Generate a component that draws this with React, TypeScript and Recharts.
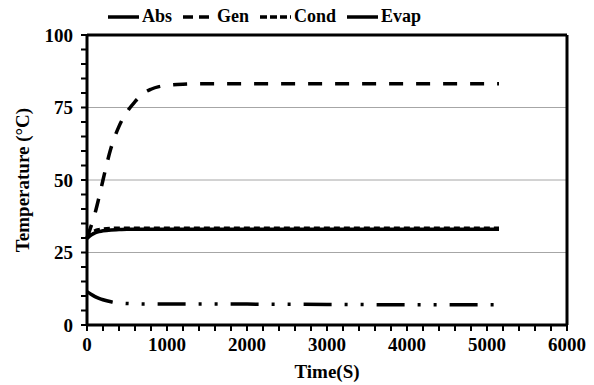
import React from 'react'
import { LineChart, Line, XAxis, YAxis, ReferenceLine, Legend } from 'recharts'

// time axis (s) shared by all four series
const times = [0, 50, 100, 150, 200, 300, 400, 500, 600, 700, 800, 900, 1000, 1200, 1500, 2000, 3000, 4000, 5150]

const absTemp = [29.8, 31, 31.8, 32.2, 32.5, 32.8, 32.9, 33, 33, 33, 33, 33, 33, 33, 33, 33, 33, 33, 33]
const genTemp = [30, 34, 38.5, 44, 50, 61, 68.5, 73.5, 77, 79.8, 81.3, 82.2, 82.6, 83, 83.2, 83.2, 83.2, 83.2, 83.2]
const condTemp = [30, 31.6, 32.5, 32.9, 33.1, 33.3, 33.4, 33.4, 33.4, 33.4, 33.4, 33.4, 33.4, 33.4, 33.4, 33.4, 33.4, 33.4, 33.4]
const evapTemp = [11.5, 10.6, 9.8, 9.2, 8.7, 8, 7.6, 7.4, 7.3, 7.2, 7.2, 7.2, 7.2, 7.2, 7.2, 7.2, 7.1, 7, 7]

const xTicks = [0, 200, 400, 600, 800, 1000, 1200, 1400, 1600, 1800, 2000, 2200, 2400, 2600, 2800, 3000,
  3200, 3400, 3600, 3800, 4000, 4200, 4400, 4600, 4800, 5000, 5200, 5400, 5600, 5800, 6000]
const xLabels = [0, 1000, 2000, 3000, 4000, 5000, 6000]
const yTicks = [0, 5, 10, 15, 20, 25, 30, 35, 40, 45, 50, 55, 60, 65, 70, 75, 80, 85, 90, 95, 100]
const yLabels = [0, 25, 50, 75, 100]
const gridValues = [25, 50, 75]

const series = [
  { key: 'Abs', values: absTemp, dash: undefined, icon: undefined },
  { key: 'Gen', values: genTemp, dash: '14 13', icon: '10 6' },
  { key: 'Cond', values: condTemp, dash: '6 4', icon: '7 3' },
  { key: 'Evap', values: evapTemp, dash: '28 13 3 13 3 13', icon: undefined },
]

const data = times.map((t, i) => {
  const row: any = { time: t }
  series.forEach(s => { row[s.key] = s.values[i] })
  return row
})

const font = '"Liberation Serif", "Times New Roman", serif'

function LegendRow() {
  return (
    <div style={{ display: 'flex', alignItems: 'center', fontFamily: font, fontWeight: 'bold', fontSize: 18, color: '#000' }}>
      {series.map(s => (
        <div key={s.key} style={{ display: 'flex', alignItems: 'center', marginRight: 11 }}>
          <svg width={31} height={10} style={{ marginRight: 3 }}>
            <line x1={0} y1={5} x2={31} y2={5} stroke="#000" strokeWidth={3.5} strokeDasharray={s.icon} />
          </svg>
          <span>{s.key}</span>
        </div>
      ))}
    </div>
  )
}

export default function App() {
  return (
    <div style={{ position: 'absolute', left: 0, top: 0, width: 594, height: 385, background: '#fff' }}>
      <LineChart width={594} height={385} data={data} margin={{ top: 35, right: 27, bottom: 0, left: 27 }}>
        {gridValues.map(v => (
          <ReferenceLine key={v} y={v} stroke="#a6a6a6" strokeWidth={1} />
        ))}
        <ReferenceLine y={100} stroke="#000" strokeWidth={3} />
        <ReferenceLine x={6000} stroke="#000" strokeWidth={3} />
        <XAxis
          dataKey="time"
          type="number"
          domain={[0, 6000]}
          ticks={xTicks}
          interval={0}
          height={60}
          tickSize={6}
          tickMargin={7}
          tickFormatter={(v: number) => (xLabels.includes(v) ? String(v) : '')}
          tick={{ fill: '#000', fontFamily: font, fontWeight: 'bold', fontSize: 19 }}
          axisLine={{ stroke: '#000', strokeWidth: 3 }}
          tickLine={{ stroke: '#000', strokeWidth: 2 }}
        />
        <YAxis
          type="number"
          domain={[0, 100]}
          ticks={yTicks}
          interval={0}
          width={60}
          tickSize={6}
          tickMargin={8}
          tickFormatter={(v: number) => (yLabels.includes(v) ? String(v) : '')}
          tick={{ fill: '#000', fontFamily: font, fontWeight: 'bold', fontSize: 19 }}
          axisLine={{ stroke: '#000', strokeWidth: 3 }}
          tickLine={{ stroke: '#000', strokeWidth: 2 }}
        />
        <Legend
          verticalAlign="middle"
          align="center"
          wrapperStyle={{ top: 6, left: 108, width: 340 }}
          content={() => <LegendRow />}
        />
        {series.map(s => (
          <Line
            key={s.key}
            dataKey={s.key}
            type="monotone"
            stroke="#000"
            strokeWidth={3.5}
            strokeDasharray={s.dash}
            dot={false}
            activeDot={false}
            isAnimationActive={false}
          />
        ))}
      </LineChart>
      {/* axis titles */}
      <svg width={594} height={385} style={{ position: 'absolute', left: 0, top: 0, pointerEvents: 'none' }}>
        <text x={22} y={180} transform="rotate(-90, 22, 180)" textAnchor="middle" dominantBaseline="central"
          fill="#000" fontFamily={font} fontWeight="bold" fontSize={19}>
          Temperature (°C)
        </text>
        <text x={327} y={378} textAnchor="middle" fill="#000" fontFamily={font} fontWeight="bold" fontSize={19}>
          Time(S)
        </text>
      </svg>
    </div>
  )
}
